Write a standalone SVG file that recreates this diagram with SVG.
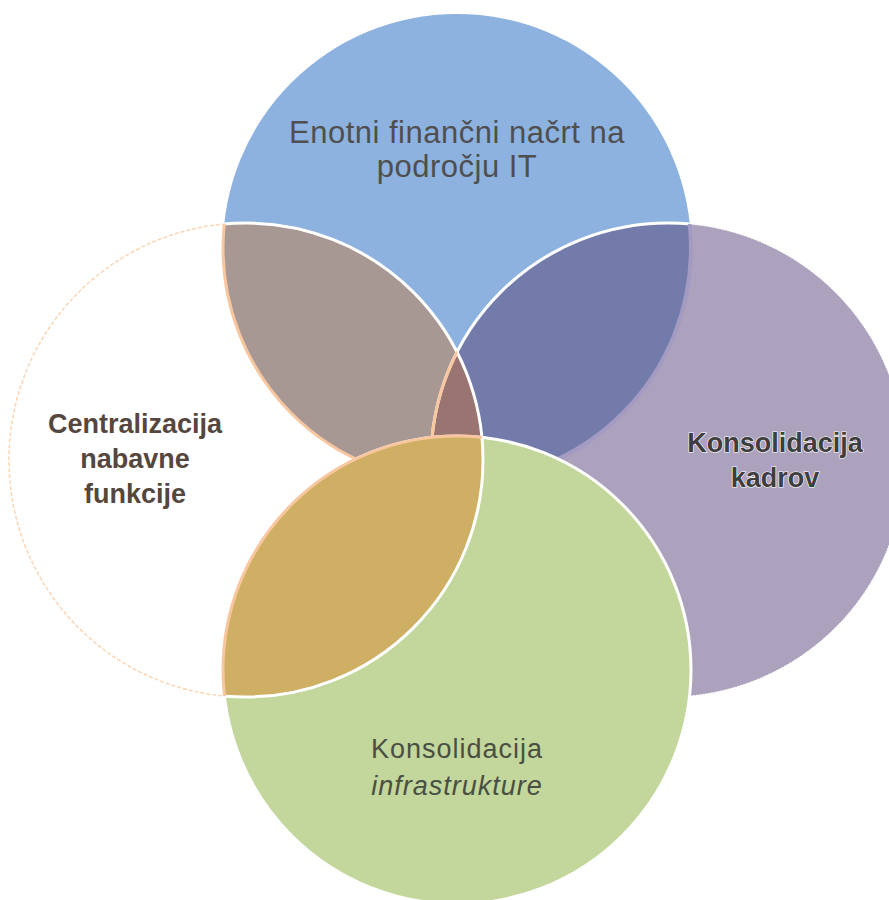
<svg xmlns="http://www.w3.org/2000/svg" width="889" height="900" viewBox="0 0 889 900">
<style>
.t{font-family:"Liberation Sans",Arial,sans-serif;text-anchor:middle}
.top{font-size:31px;fill:#4f4f4f;letter-spacing:0.5px}
.lft{font-size:27px;font-weight:bold;fill:#56473e}
.rgt{font-size:27px;font-weight:bold;fill:#3e3e3e;stroke:#ffffff;stroke-width:1.2px;paint-order:stroke}
.bot{font-size:27px;fill:#4a4f43;letter-spacing:1px}
.ws{fill:none;stroke:#ffffff;stroke-width:3}
.os{fill:none;stroke:#f9c79f;stroke-width:3}
</style>
<defs>
<clipPath id="cT"><circle cx="457" cy="248" r="234"/></clipPath>
<clipPath id="cL"><circle cx="246" cy="460" r="237"/></clipPath>
<clipPath id="cR"><circle cx="668" cy="460" r="237"/></clipPath>
<clipPath id="cB"><circle cx="457" cy="670" r="234"/></clipPath>
</defs>
<rect width="889" height="900" fill="#ffffff"/>
<g id="node-top">
<circle cx="457" cy="248" r="234" fill="#8db2e0"/>
</g>
<g id="node-right">
<circle cx="668" cy="460" r="237" fill="#aca2bd" stroke="#ffffff" stroke-width="1" stroke-dasharray="2 1"/>
</g>
<g id="node-left">
<circle cx="246" cy="460" r="237" fill="#ffffff" stroke="#fbd6b6" stroke-width="1.5" stroke-dasharray="4 2"/>
</g>
<g id="overlaps-top" clip-path="url(#cT)">
<circle cx="668" cy="460" r="237" fill="#737bab"/>
<circle cx="246" cy="460" r="237" fill="#a89894"/>
<g clip-path="url(#cL)"><circle cx="668" cy="460" r="237" fill="#9a7470"/></g>
<circle cx="246" cy="460" r="237" class="ws"/>
<circle cx="668" cy="460" r="237" class="ws"/>
<g clip-path="url(#cL)"><circle cx="668" cy="460" r="237" class="os"/></g>
</g>
<g clip-path="url(#cL)"><circle cx="457" cy="248" r="234" class="os"/></g>
<g clip-path="url(#cR)"><circle cx="457" cy="248" r="234" fill="none" stroke="#a49bc2" stroke-width="4"/></g>
<g id="node-bottom">
<circle cx="457" cy="670" r="234" class="ws" style="fill:#c3d69b"/>
</g>
<g id="overlap-left-bottom">
<g clip-path="url(#cB)">
<circle cx="246" cy="460" r="237" fill="#cfaf63"/>
<circle cx="246" cy="460" r="237" class="ws"/>
</g>
<g clip-path="url(#cL)"><circle cx="457" cy="670" r="234" class="os"/></g>
</g>
<g id="labels">
<text class="t top" x="457" y="143">Enotni finančni  načrt na</text>
<text class="t top" x="457" y="177">področju IT</text>
<text class="t lft" x="135" y="433">Centralizacija</text>
<text class="t lft" x="135" y="468">nabavne</text>
<text class="t lft" x="135" y="503">funkcije</text>
<text class="t rgt" x="775" y="452">Konsolidacija</text>
<text class="t rgt" x="775" y="487">kadrov</text>
<text class="t bot" x="457" y="758">Konsolidacija</text>
<text class="t bot" x="457" y="795" font-style="italic">infrastrukture</text>
</g>
<g id="connectors"/>
</svg>
